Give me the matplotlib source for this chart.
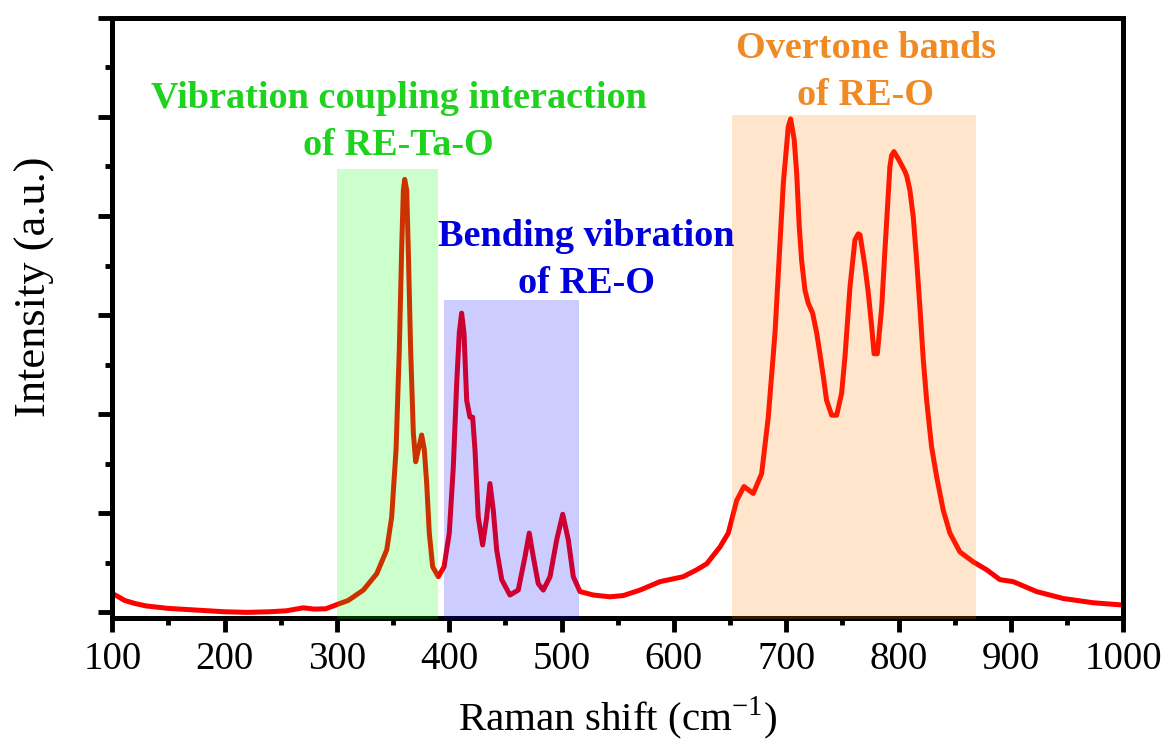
import matplotlib
matplotlib.use('Agg')
import matplotlib.pyplot as plt
import numpy as np

plt.rcParams['font.family'] = ['Liberation Serif', 'DejaVu Serif']
plt.rcParams['mathtext.fontset'] = 'custom'
plt.rcParams['mathtext.rm'] = 'Liberation Serif'

# Raman spectrum (x in cm-1, y in major-tick units)
shift = [100, 105, 111, 120, 130, 150, 175, 200, 220, 240, 255, 270, 280, 290,
         302.6, 310, 323.5, 335.4, 344.3, 348.7, 352.6, 355.5, 357.6, 359.1, 360.3,
         362.1, 363.5, 365.6, 368, 370.1, 372.4, 375.4, 377.8, 379.9, 382.2, 385.2,
         390.2, 395.3, 400, 403.6, 406.6, 408.9, 411, 413.1, 415.5, 418.4, 420.8,
         422.9, 425.8, 429.7, 433.3, 436.2, 439.2, 442.2, 446.7, 454, 461.4, 467.4,
         471.2, 474.8, 479.2, 483.7, 489.7, 495.6, 501, 506, 510.4, 516.4, 528.2,
         543.1, 555, 569.8, 587.6, 608.3, 620.3, 629.2, 641, 648.4, 655.9, 662.4,
         670.6, 678.1, 684, 690, 694.4, 697.4, 701.8, 703.9, 707.1, 709.3, 711.6,
         713.7, 716.7, 719.6, 723.5, 727.1, 730, 733, 735.9, 740.4, 744.9, 749.3,
         752.3, 756.8, 761.2, 764.1, 765.7, 770.1, 773.1, 776.1, 778.2, 781.1, 785,
         787.9, 790, 792.3, 793.8, 795.9, 800.6, 805.7, 807.4, 810.1, 813.1, 816.1,
         819, 822, 825, 829.4, 833.9, 839.8, 845.7, 854.6, 866.5, 878.4, 890.3,
         902.1, 922.9, 946.6, 973.3, 999.5]
intensity = [0.19, 0.16, 0.12, 0.09, 0.065, 0.04, 0.023, 0.006, 0.0, 0.006, 0.016, 0.046, 0.033, 0.036,
             0.09, 0.12, 0.225, 0.39, 0.63, 0.96, 1.64, 2.65, 3.66, 4.26, 4.37,
             4.26, 3.66, 2.65, 1.81, 1.52, 1.64, 1.79, 1.64, 1.30, 0.80, 0.46,
             0.36, 0.46, 0.80, 1.47, 2.31, 2.82, 3.02, 2.82, 2.14, 1.97, 1.97,
             1.64, 0.96, 0.68, 0.96, 1.30, 1.03, 0.63, 0.33, 0.175, 0.225, 0.56,
             0.80, 0.56, 0.29, 0.225, 0.36, 0.73, 0.99, 0.73, 0.36, 0.21, 0.175,
             0.157, 0.17, 0.225, 0.31, 0.36, 0.43, 0.49, 0.66, 0.80, 1.13, 1.27,
             1.20, 1.40, 1.97, 2.82, 3.72, 4.33, 4.90, 4.98, 4.77, 4.43, 3.89,
             3.55, 3.25, 3.12, 3.02, 2.82, 2.61, 2.38, 2.14, 1.99, 1.99, 2.21,
             2.58, 3.29, 3.76, 3.82, 3.81, 3.49, 3.22, 2.88, 2.61, 2.61, 3.08,
             3.66, 4.06, 4.50, 4.61, 4.65, 4.56, 4.45, 4.40, 4.26, 3.99, 3.55,
             3.08, 2.55, 2.14, 1.67, 1.37, 1.03, 0.80, 0.61, 0.51, 0.43, 0.33,
             0.31, 0.21, 0.14, 0.097, 0.074]

# shaded bands: (start, end, top)
bands = [(300, 390, 4.47), (395, 515.5, 3.15), (652, 869, 5.02)]
band_colors = ['#00ff00', '#0000ff', '#ff8000']

labels = ['Vibration coupling interaction\nof RE-Ta-O',
          'Bending vibration\nof RE-O',
          'Overtone bands\nof RE-O']
label_pos = [(355, 4.95), (522, 3.555), (771, 5.45)]
label_colors = ['#1ed21e', '#0000dd', '#f08a24']

fig = plt.figure(figsize=(11.7, 7.44), dpi=100)
ax = fig.add_axes([0.096, 0.170, 0.864, 0.806])

ax.plot(shift, intensity, color='red', lw=3.6, zorder=2)
for (a, b, top), c in zip(bands, band_colors):
    ax.fill_between([a, b], -1, top, color=c, alpha=0.2, lw=0, zorder=3)

for txt, (x, y), c in zip(labels, label_pos, label_colors):
    ax.text(x, y, txt, color=c, fontsize=27.5, fontweight='bold', ha='center',
            va='center', multialignment='center', linespacing=1.45)

ax.set_xlim(100, 1000)
ax.set_ylim(-0.052, 6)
ax.set_xticks(np.arange(100, 1001, 100))
ax.set_xticks(np.arange(150, 1000, 100), minor=True)
ax.set_yticks(np.arange(0, 7, 1))
ax.set_yticks(np.arange(0.5, 6, 1), minor=True)
ax.set_yticklabels([])
ax.tick_params(which='both', direction='out', width=3.5, top=False, right=False)
ax.tick_params(which='major', length=10, labelsize=28, pad=7)
ax.tick_params(which='minor', length=5)
for s in ax.spines.values():
    s.set_linewidth(3.6)

fig.text(0.5279, 1 - 718 / 744, 'Raman shift (cm$^{\\mathrm{-1}}$)', fontsize=29.5,
         ha='center', va='center')
fig.text(35 / 1170, 1 - 287 / 744, 'Intensity (a.u.)', fontsize=32,
         rotation=90, ha='center', va='center')

fig.savefig('out.png', dpi=100)
